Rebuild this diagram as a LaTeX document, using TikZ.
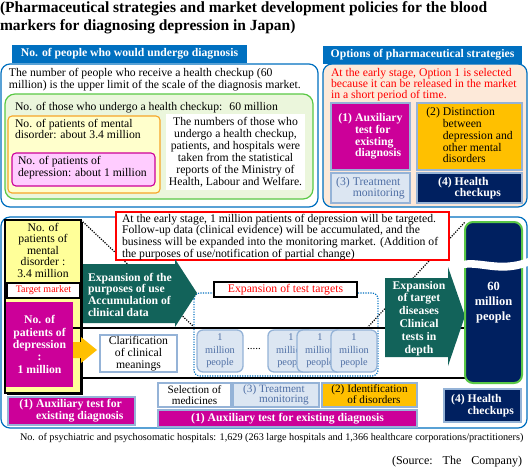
\documentclass[tikz,border=0pt]{standalone}
\usepackage{fontspec}
\setmainfont{Liberation Serif}
\usetikzlibrary{shadows}
\definecolor{hdrblue}{RGB}{0,112,192}
\definecolor{grn}{RGB}{90,200,70}
\definecolor{grnfill}{RGB}{235,246,220}
\definecolor{ylwfill}{RGB}{255,255,204}
\definecolor{orng}{RGB}{247,165,40}
\definecolor{pinkfill}{RGB}{255,204,255}
\definecolor{mag}{RGB}{204,0,153}
\definecolor{gold}{RGB}{255,192,0}
\definecolor{lblue}{RGB}{220,230,242}
\definecolor{lbord}{RGB}{149,179,215}
\definecolor{navy}{RGB}{0,32,96}
\definecolor{peach}{RGB}{253,233,217}
\definecolor{ylwtwo}{RGB}{255,255,153}
\definecolor{tealx}{RGB}{18,99,90}
\definecolor{slate}{RGB}{79,111,165}
\newcommand\setfs[2]{\fontsize{#1}{#2}\selectfont}
\begin{document}
\begin{tikzpicture}[x=1pt,y=-1pt]
\tikzset{
  n/.style={inner sep=0pt, outer sep=0pt},
  rect/.style 2 args={n, anchor=north west, minimum width=#1pt, minimum height=#2pt},
  txt/.style={n, anchor=north west, align=left},
  body/.style={font=\setfs{11.7}{#1}},
  bodys/.style={font=\setfs{11.2}{#1}},
  bodyb/.style={font=\bfseries\setfs{11.7}{#1}},
  blkdot/.style={black, line width=1.2pt, dash pattern=on 1.2pt off 1.3pt},
  optbox/.style={draw=lbord, line width=1.5pt},
  million/.style={rect={46}{42}, fill=lblue, draw=lbord, line width=1.3pt, rounded corners=6pt,
     text=slate, align=center, font=\setfs{10.3}{12.5}},
}
\useasboundingbox (0,0) rectangle (529,467);

% title
\node[txt, font=\bfseries\setfs{15.5}{18}] (title) at (0,1.5)
  {(Pharmaceutical strategies and market development policies for the blood\\markers for diagnosing depression in Japan)};

% ---------- left upper section
\node[rect={317}{143}, draw=hdrblue, line width=1.2pt, rounded corners=9pt, fill=white] (outerL) at (1,64) {};
\node[rect={235}{18}, fill=hdrblue, text=white, font=\bfseries\setfs{11.7}{12}] (tabL) at (12,45)
  {No. of people who would undergo diagnosis};
\node[txt, body=10.7] (intro) at (9,68.5)
  {The number of people who receive a health checkup (60\\million) is the upper limit of the scale of the diagnosis market.};
\node[rect={308}{105}, draw=grn, line width=1.2pt, rounded corners=10pt, fill=grnfill] (grnbox) at (5,94) {};
\node[txt, body=12] (checkup) at (15,102)
  {No. of those who undergo a health checkup:\hspace{7pt}60 million};
\node[rect={152}{77}, draw=orng, line width=1.1pt, rounded corners=4pt, fill=ylwfill] (mentalT) at (8,116) {};
\node[txt, body=11] (mentalTtxt) at (15,119)
  {No. of patients of mental\\disorder: about 3.4 million};
\node[rect={143}{33}, draw=mag, line width=1.1pt, rounded corners=4pt, fill=pinkfill] (deprT) at (12,153) {};
\node[txt, body=12.5] (deprTtxt) at (18,156)
  {No. of patients of\\depression: about 1 million};
\node[rect={139}{76}, fill=white, align=center, body=12] (stats) at (166,114)
  {The numbers of those who\\undergo a health checkup,\\patients, and hospitals were\\taken from the statistical\\reports of the Ministry of\\Health, Labour and Welfare.};

% ---------- right upper section
\node[rect={204}{143}, draw=hdrblue, line width=1.2pt, rounded corners=9pt, fill=peach] (outerR) at (323,64) {};
\node[rect={199}{18}, fill=hdrblue, text=white, font=\bfseries\setfs{11.7}{12}] (tabR) at (323,46)
  {Options of pharmaceutical strategies};
\node[txt, body=10.7, text=red] (optnote) at (331,68.5)
  {At the early stage, Option 1 is selected\\because it can be released in the market\\in a short period of time.};
\node[rect={79}{67}, optbox, fill=mag, text=white, align=left, bodyb=11.7] (opt1) at (331,103)
  {(1) Auxiliary\\\phantom{(1) }test for\\\phantom{(1) }existing\\\phantom{(1) }diagnosis};
\node[rect={105}{67}, optbox, fill=gold, align=left, body=11.8] (opt2) at (417,103)
  {(2) Distinction\\\phantom{(2) }between\\\phantom{(2) }depression and\\\phantom{(2) }other mental\\\phantom{(2) }disorders};
\node[rect={79}{30}, optbox, fill=lblue, text=slate, align=left, body=11.3] (opt3) at (331,173)
  {(3) Treatment\\\phantom{(3) }monitoring};
\node[rect={105}{30}, optbox, fill=navy, text=white, align=left, bodyb=11.3] (opt4) at (417,173)
  {(4) Health\\\phantom{(4) }checkups};

% ---------- lower section
\node[rect={526}{211}, draw=hdrblue, line width=1.2pt, rounded corners=9pt, fill=white] (outerB) at (1,217) {};

\node[rect={57}{161}, n] (tall60ghost) at (465,222) {};
\coordinate (dotL) at (193,326);
\coordinate (dotR) at (367,328);

% yellow market box
\node[rect={76}{173}, fill=ylwtwo, draw=black, line width=1.3pt,
  general shadow={fill=black, shadow xshift=1.6pt, shadow yshift=-1.6pt}] (mentalB) at (5,220) {};
\draw[blkdot] (mentalB.north east) -- (dotL);
\draw[blkdot] (dotR) -- (tall60ghost.north west);

\draw[hdrblue, line width=1.2pt, dash pattern=on 1.2pt off 1.3pt, rounded corners=6pt] (194,293) rectangle (378,376);

\node[rect={333}{48}, draw=red, line width=1.5pt, fill=white] (note) at (116,212) {};
\node[txt, body=11.7] (notetxt) at (122,214)
  {At the early stage, 1 million patients of depression will be targeted.\\
   Follow-up data (clinical evidence) will be accumulated, and the\\
   business will be expanded into the monitoring market. (Addition of\\
   the purposes of use/notification of partial change)};

\node[n, anchor=north, align=center, body=11.5] (mentalBtxt) at (43,223)
  {No. of\\patients of\\mental\\disorder :\\3.4 million};
\node[rect={73}{15}, fill=white, draw=black, line width=1.2pt, text=red, font=\setfs{10}{10}] (tgt) at (7,283) {Target market};
\fill[gold] (70,342) -- (81,342) -- (81,337) -- (97,350) -- (81,363) -- (81,358) -- (70,358) -- cycle;
\node[rect={67}{85}, fill=mag, text=white, align=center, bodyb=12.3] (deprB) at (6,302)
  {No. of\\patients of\\depression\\:\\1 million};

% divider lines
\draw[black, line width=2.5pt] (deprB.east |- 0,328) -- (465,328);
\draw[black, line width=2.5pt] (mentalB.east |- 0,378) -- (522,378);

% teal arrow 1
\fill[tealx] (83,264) -- (175,264) -- (175,259) -- (197,293) -- (175,327) -- (175,323) -- (83,323) -- cycle;
\node[txt, bodyb=11.7, text=white] (arrow1txt) at (88,273)
  {Expansion of the\\purposes of use\\Accumulation of\\clinical data};

\node[rect={143}{15}, fill=white, draw=black, line width=1.5pt, text=red, body=11.6] (exptgt) at (214,282)
  {Expansion of test targets};

\node[rect={77}{37}, fill=white, draw=lbord, line width=1.5pt, align=center, body=11.7] (clar) at (100,335)
  {Clarification\\of clinical\\meanings};

\node[million] (m1) at (197,330) {1\\million\\people};
\node[n, font=\setfs{11}{11}] (dots) at (254,349) {.....};
\node[million] (m2) at (268,330) {1\\million\\people};
\node[million] (m3) at (297,330) {1\\million\\people};
\node[million] (m4) at (331,330) {1\\million\\people};

% teal arrow 2
\fill[tealx] (385,278) -- (448,278) -- (448,267) -- (465,316) -- (448,366) -- (448,357) -- (385,357) -- cycle;
\node[n, anchor=north, align=center, bodyb=12.8, text=white] (arrow2txt) at (419,281)
  {Expansion\\of target\\diseases\\Clinical\\tests in\\depth};

% 60 million box
\node[rect={57}{161}, fill=navy, draw=grn, line width=2pt, rounded corners=8pt, text=white, align=center,
  font=\bfseries\setfs{12.5}{15}] (tall60) at (465,222) {60\\million\\people};
\fill[white] (456,263) .. controls (476,254) and (497,270) .. (528,258) -- (528,266)
   .. controls (497,278) and (476,262) .. (456,270) -- cycle;

% bottom row
\node[rect={127}{28}, optbox, fill=mag, text=white, align=left, bodyb=11.7] (auxL) at (8,397)
  {(1) Auxiliary test for\\\phantom{(1) }existing diagnosis};
\node[rect={73}{24}, optbox, fill=white, align=center, bodys=10.6] (sel) at (158,383)
  {Selection of\\medicines};
\node[rect={86}{24}, optbox, fill=lblue, text=slate, align=left, bodys=10.6] (trt) at (233,383)
  {(3) Treatment\\\phantom{(3) }monitoring};
\node[rect={95}{24}, optbox, fill=gold, align=left, bodys=10.6] (ident) at (322,383)
  {(2) Identification\\\phantom{(2) }of disorders};
\node[rect={259}{17}, optbox, fill=mag, text=white, bodyb=11.7] (auxW) at (158,410)
  {(1) Auxiliary test for existing diagnosis};
\node[rect={77}{33}, optbox, fill=navy, text=white, align=left, bodyb=11.7] (hc) at (444,389)
  {(4) Health\\\phantom{(4) }checkups};

% footer
\node[n, anchor=base west, font=\setfs{10.2}{10}] (footer) at (20,440.5)
  {No. of psychiatric and psychosomatic hospitals: 1,629 (263 large hospitals and 1,366 healthcare corporations/practitioners)};
\node[n, anchor=base east, font=\setfs{12}{12}] (source) at (522,464)
  {(Source:\hspace{10pt}The\hspace{10pt}Company)};
\end{tikzpicture}
\end{document}
